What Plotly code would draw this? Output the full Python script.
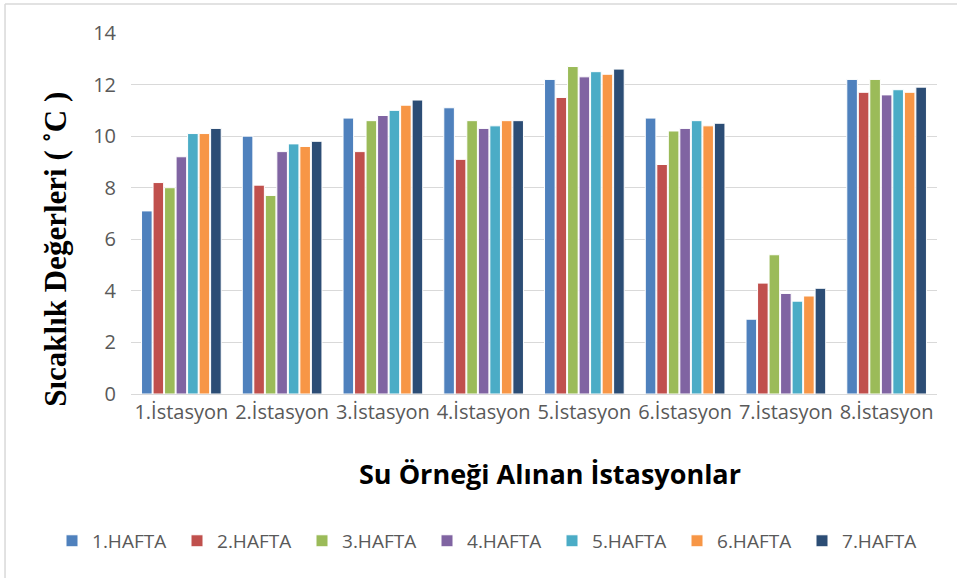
import plotly.graph_objects as go

categories = ["1.İstasyon", "2.İstasyon", "3.İstasyon", "4.İstasyon",
              "5.İstasyon", "6.İstasyon", "7.İstasyon", "8.İstasyon"]
series_names = ["1.HAFTA", "2.HAFTA", "3.HAFTA", "4.HAFTA", "5.HAFTA", "6.HAFTA", "7.HAFTA"]

hafta1 = [7.1, 10.0, 10.7, 11.1, 12.2, 10.7, 2.9, 12.2]
hafta2 = [8.2, 8.1, 9.4, 9.1, 11.5, 8.9, 4.3, 11.7]
hafta3 = [8.0, 7.7, 10.6, 10.6, 12.7, 10.2, 5.4, 12.2]
hafta4 = [9.2, 9.4, 10.8, 10.3, 12.3, 10.3, 3.9, 11.6]
hafta5 = [10.1, 9.7, 11.0, 10.4, 12.5, 10.6, 3.6, 11.8]
hafta6 = [10.1, 9.6, 11.2, 10.6, 12.4, 10.4, 3.8, 11.7]
hafta7 = [10.3, 9.8, 11.4, 10.6, 12.6, 10.5, 4.1, 11.9]

y_ticks = [0, 2, 4, 6, 8, 10, 12, 14]

colors = ["#4F81BD", "#C0504D", "#9BBB59", "#8064A2", "#4BACC6", "#F79646", "#2C4D75"]
all_series = [hafta1, hafta2, hafta3, hafta4, hafta5, hafta6, hafta7]

fig = go.Figure()
for name, vals, col in zip(series_names, all_series, colors):
    fig.add_trace(go.Bar(
        x=categories, y=vals, name=name,
        marker=dict(color=col, line=dict(color="white", width=1)),
    ))

fig.update_layout(
    width=957, height=578,
    margin=dict(l=131, r=20, t=33, b=184, autoexpand=False),
    paper_bgcolor="white", plot_bgcolor="white",
    barmode="group", bargap=0.2, bargroupgap=0.08,
    font=dict(family="Open Sans, sans-serif", color="#595959", size=20),
    showlegend=True,
    legend=dict(orientation="h", xref="paper", yref="paper",
                x=-0.098, xanchor="left", y=-0.407, yanchor="middle",
                font=dict(size=19, color="#595959"), itemwidth=30,
                entrywidth=80, traceorder="normal"),
    xaxis=dict(showgrid=False, showline=True, linecolor="#D9D9D9", linewidth=1,
               ticks="", tickfont=dict(size=20, color="#595959"), fixedrange=True),
    yaxis=dict(range=[0, 14], tickvals=y_ticks, showgrid=True, gridcolor="#D9D9D9",
               gridwidth=1, zeroline=False, showline=False, ticks="",
               tickfont=dict(size=20, color="#595959"), ticklabelstandoff=14),
    annotations=[
        dict(text="<b>Sıcaklık Değerleri ( ˚C )</b>", textangle=-90, xref="paper", yref="paper",
             x=-0.094, y=0.40, xanchor="center", yanchor="middle", showarrow=False,
             font=dict(family="Liberation Serif, serif", size=31, color="black")),
        dict(text="<b>Su Örneği Alınan İstasyonlar</b>", xref="paper", yref="paper",
             x=0.52, y=-0.219, xanchor="center", yanchor="middle", showarrow=False,
             font=dict(family="Open Sans, sans-serif", size=27, color="black")),
    ],
    shapes=[
        dict(type="line", xref="paper", yref="paper",
             x0=-0.1563, x1=-0.1563, y0=1.0803, y1=-0.52,
             line=dict(color="#D9D9D9", width=1.5)),
        dict(type="line", xref="paper", yref="paper",
             x0=-0.1563, x1=1.03, y0=1.0803, y1=1.0803,
             line=dict(color="#D9D9D9", width=1.5)),
    ],
)

fig.write_html("out.html", config={"displayModeBar": False},
               post_script="document.body.style.margin='0';")
